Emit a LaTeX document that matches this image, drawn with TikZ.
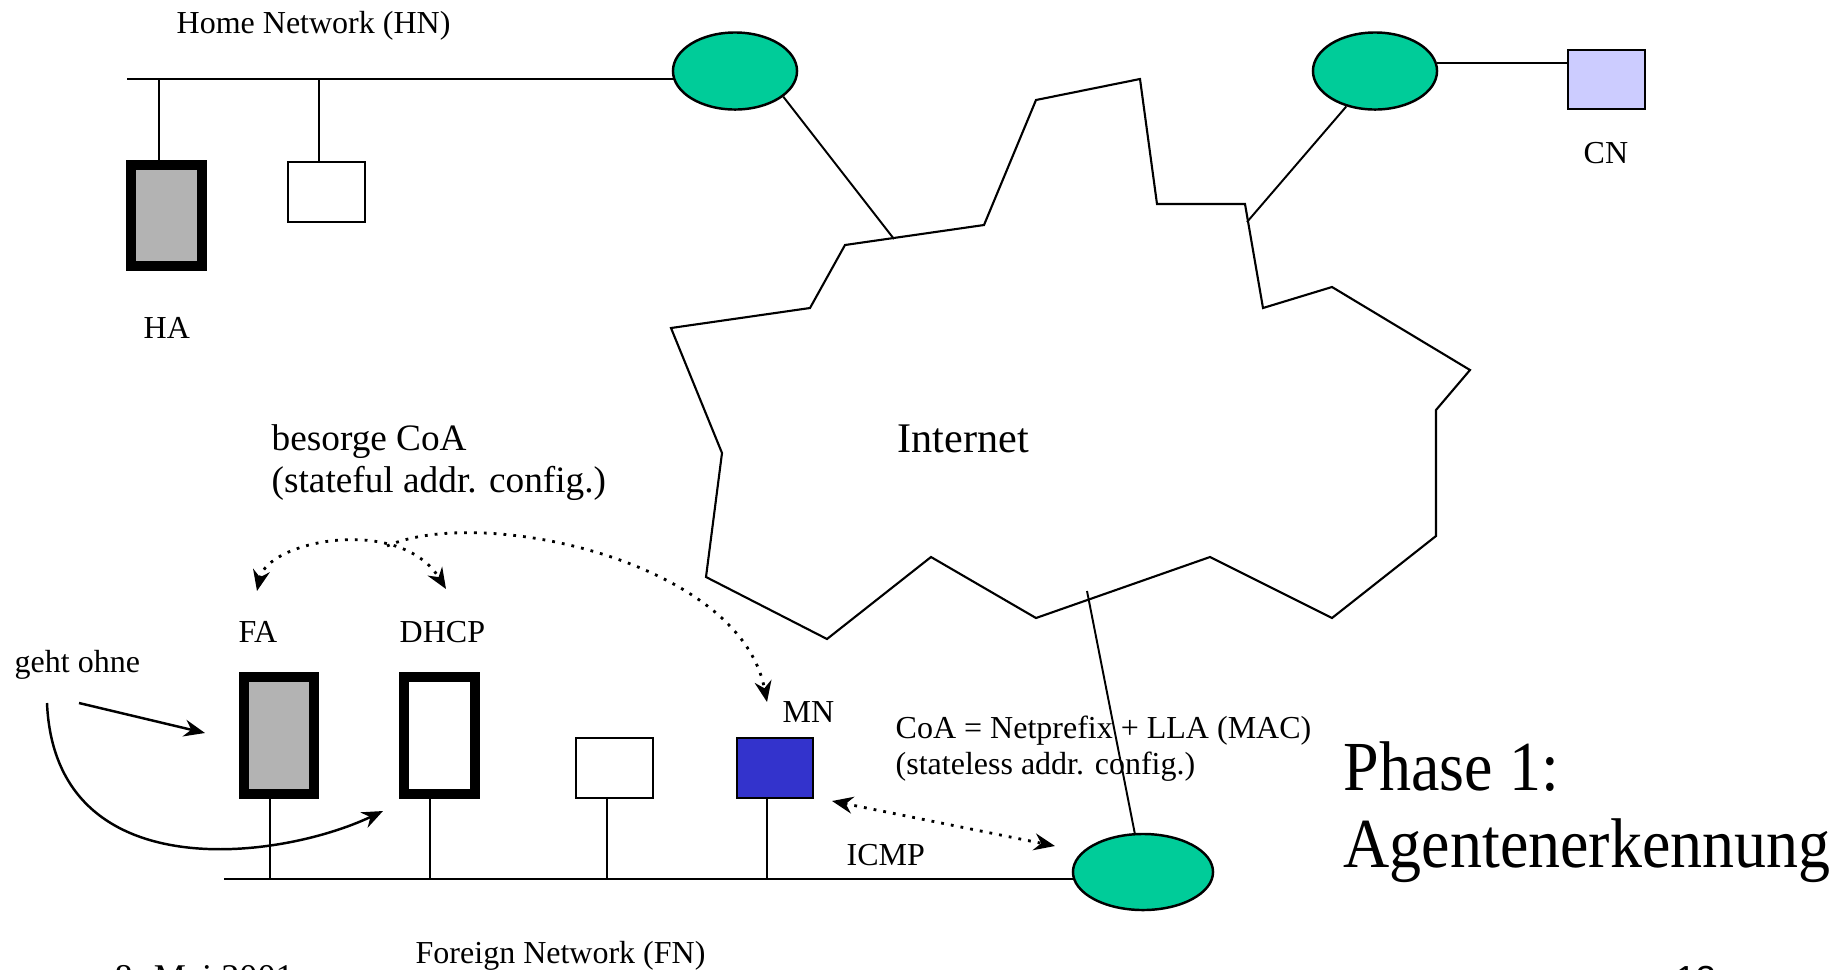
\documentclass[tikz,border=0pt]{standalone}
\usepackage{fontspec}
\usepackage{graphicx}
\setmainfont{Liberation Serif}
\newfontfamily\pagenumfont{Liberation Sans}
\usetikzlibrary{arrows.meta,backgrounds,shapes.geometric}
\definecolor{routergreen}{HTML}{00CC99}
\definecolor{agentgray}{HTML}{B3B3B3}
\definecolor{cnlilac}{HTML}{CCCCFF}
\definecolor{mnblue}{HTML}{3333CC}

\begin{document}
\begin{tikzpicture}[x=0.01cm,y=-0.01cm,
  >={Stealth[length=0.21cm,width=0.17cm,inset=0.07cm]},
  wire/.style={line width=0.55pt},
  router/.style={ellipse,draw,line width=0.7pt,fill=routergreen,
    minimum width=1.24cm,minimum height=0.77cm,inner sep=0pt},
  agent/.style={rectangle,draw,line width=2.85pt,minimum width=0.70cm,inner sep=0pt},
  host/.style={rectangle,draw,line width=0.6pt,minimum width=0.77cm,
    minimum height=0.60cm,inner sep=0pt},
  lbl/.style={inner sep=0pt,anchor=base west,font=\fontsize{9.1}{10.5}\selectfont},
  msg/.style={line width=0.8pt,dotted},
  hint/.style={line width=0.7pt}]
\useasboundingbox (0,0) rectangle (1848,969);

% ---------- home network ----------
\node[router] (e1) at (735,71) {};
\node[agent,fill=agentgray,minimum height=1.01cm] (ha) at (166.5,215.5) {};
\node[host,fill=white] (h2) at (326.5,192) {};
\node[lbl] (hnlabel) at (176,33) {Home Network (HN)};
\node[lbl] (halabel) at (143,338) {HA};

% ---------- correspondent side ----------
\node[router] (e2) at (1375,71) {};
\node[host,fill=cnlilac,minimum height=0.59cm] (cn) at (1606.5,79.5) {};
\node[lbl] (cnlabel) at (1583,163) {CN};

% ---------- internet cloud ----------
\draw[line width=0.6pt] (671,328) -- (810,308) -- (845,245) -- (984,225)
  -- (1036,100) -- (1140,79) -- (1157,204) -- (1245,204) -- (1263,308)
  -- (1332,287) -- (1470,370) -- (1436,410) -- (1436,536) -- (1332,618)
  -- (1210,557) -- (1036,618) -- (931,557) -- (827,639) -- (706,577)
  -- (722,453) -- cycle;
\node[inner sep=0pt,anchor=base west,font=\fontsize{12}{14}\selectfont]
  (inet) at (897,452) {Internet};
\coordinate (ia) at (894,239);
\coordinate (ib) at (1247,222);
\coordinate (ic) at (1087,591);

% ---------- foreign network ----------
\node[router,minimum width=1.40cm,minimum height=0.76cm] (e3) at (1143,872) {};
\node[agent,fill=agentgray,minimum height=1.17cm] (fa) at (279,735.5) {};
\node[agent,fill=white,minimum height=1.17cm] (dhcp) at (439.5,735.5) {};
\node[host,fill=white] (h3) at (614.5,768) {};
\node[host,fill=mnblue,minimum width=0.76cm] (mn) at (775,768) {};
\node[lbl] (falabel) at (238,642) {FA};
\node[lbl] (dhcplabel) at (399,642) {DHCP};
\node[lbl] (mnlabel) at (782,722) {MN};
\node[lbl] (icmplabel) at (846,865) {ICMP};
\node[lbl] (geht) at (14,672) {geht ohne};
\node[lbl] (fnlabel) at (415,963) {Foreign Network (FN)};
\node[lbl] (coa) at (895,738)
  {\begin{tabular}[t]{@{}l@{}}CoA = Netprefix + LLA (MAC)\\(stateless addr. config.)\end{tabular}};
\node[inner sep=0pt,anchor=base west,font=\fontsize{10.6}{12.2}\selectfont] (besorge) at (271,450)
  {\begin{tabular}[t]{@{}l@{}}besorge CoA\\(stateful addr. config.)\end{tabular}};
\node[inner sep=0pt,anchor=base west,font=\fontsize{20}{22}\selectfont] (phase) at (1343,790)
  {\begin{tabular}[t]{@{}l@{}}\scalebox{0.91}[1]{Phase 1:}\\\scalebox{0.91}[1]{Agentenerkennung}\end{tabular}};

% footer, running off the lower edge
\node[inner sep=0pt,anchor=base west,font=\fontsize{10.3}{12}\selectfont] (date) at (114,989) {8. Mai 2001};
\node[inner sep=0pt,anchor=base west,font=\fontsize{10.3}{12}\pagenumfont] (pageno) at (1675,991) {13};

% ---------- wiring ----------
\coordinate (hnL) at (127,79);
\coordinate (t1) at (159,79);
\coordinate (t2) at (319,79);
\coordinate (fnL) at (224,879);
\coordinate (d1) at (270,879);
\coordinate (d2) at (430,879);
\coordinate (d3) at (607,879);
\coordinate (d4) at (767,879);
\begin{scope}[on background layer]
  \draw[wire] (hnL) -- (hnL -| e1);
  \draw[wire] (t1) -- (t1 |- ha.north);
  \draw[wire] (t2) -- (t2 |- h2.north);
  \draw[wire] (e1.-28) -- (ia);
  \draw[wire] (e2.7) -- (e2.7 -| cn.west);
  \draw[wire] (e2.-129) -- (ib);
  \draw[wire] (e3.102) -- (ic);
  \draw[wire] (fnL) -- (fnL -| e3);
  \draw[wire] (d1) -- (d1 |- fa.south);
  \draw[wire] (d2) -- (d2 |- dhcp.south);
  \draw[wire] (d3) -- (d3 |- h3.south);
  \draw[wire] (d4) -- (d4 |- mn.south);
\end{scope}

% ---------- address configuration messages ----------
\coordinate (fatip) at (257,591);
\coordinate (dhtip) at (446,589);
\coordinate (j) at (387,546);
\coordinate (mntip) at (767,702);
\draw[msg,<->] (fatip) .. controls (268,540) and (400,515) .. (dhtip);
\draw[msg,->] (j) .. controls (480,505) and (740,560) .. (mntip);
\coordinate (icl) at (832,801);
\coordinate (icr) at (1055,846);
\draw[msg,<->] (icl) -- (icr);

% ---------- "geht ohne" hints ----------
\coordinate (g1) at (79,703);
\coordinate (g1tip) at (205,733);
\coordinate (g2) at (47,703);
\coordinate (g2tip) at (383,811);
\draw[hint,->] (g1) -- (g1tip);
\draw[hint,->] (g2) .. controls (55,890) and (280,860) .. (g2tip);
\end{tikzpicture}
\end{document}
